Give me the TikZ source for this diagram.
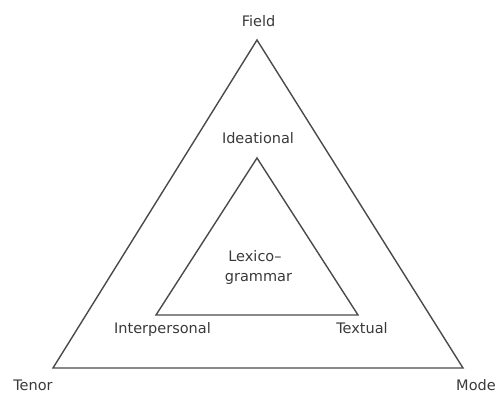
\documentclass[tikz,border=0pt]{standalone}
\usepackage{fontspec}
\setmainfont{DejaVu Sans}
\definecolor{txt}{HTML}{3A3A3A}
\definecolor{ln}{HTML}{4A4A4A}
\begin{document}
\begin{tikzpicture}[x=1pt,y=-1pt,
  lbl/.style={text=txt,font=\fontsize{14.5}{17}\selectfont,inner sep=0pt,align=center},
  edge/.style={draw=ln,line width=1.4pt,line join=miter}]
\useasboundingbox[fill=white] (0,0) rectangle (499,393);
\coordinate (oa) at (257,40);
\coordinate (ol) at (53,368);
\coordinate (or) at (463,368);
\coordinate (ia) at (257,158);
\coordinate (il) at (156,315);
\coordinate (ir) at (358,315);
\draw[edge] (oa) -- (ol) -- (or) -- cycle;
\draw[edge] (ia) -- (il) -- (ir) -- cycle;
\node[lbl,anchor=base] (field) at (258.5,27) {Field};
\node[lbl,anchor=base] (tenor) at (33,391) {Tenor};
\node[lbl,anchor=base] (mode) at (476,391) {Mode};
\node[lbl,anchor=base] (idea) at (258,144) {Ideational};
\node[lbl,anchor=base] (lex1) at (255,262) {Lexico\textendash};
\node[lbl,anchor=base] (lex2) at (258.5,282) {grammar};
\node[lbl,anchor=base] (inter) at (162.5,334) {Interpersonal};
\node[lbl,anchor=base] (text) at (362,334) {Textual};
\end{tikzpicture}
\end{document}
